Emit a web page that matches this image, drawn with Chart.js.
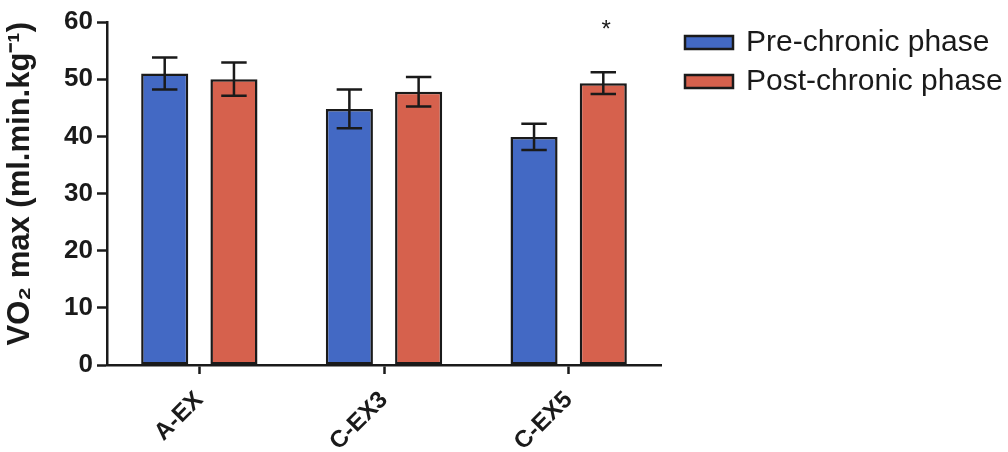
<!DOCTYPE html>
<html>
<head>
<meta charset="utf-8">
<script src="https://cdn.jsdelivr.net/npm/chart.js@4.4.1/dist/chart.umd.min.js"></script>
<style>
  html, body { margin: 0; padding: 0; background: #fff; }
  #wrap { width: 1008px; height: 452px; }
</style>
</head>
<body>
<div id="wrap"><canvas id="vo2Chart"></canvas></div>
<script>
// values (mean +/- error)
const groups = ["A-EX", "C-EX3", "C-EX5"];
const preMeans = [51.0, 44.8, 39.9];
const preErrors = [2.8, 3.4, 2.3];
const postMeans = [50.0, 47.8, 49.3];
const postErrors = [2.9, 2.6, 1.9];
const postStars = ["", "", "*"];
const yTicks = [0, 10, 20, 30, 40, 50, 60];

const FONT = "'Liberation Sans', Arial, Helvetica, sans-serif";
const INK = "#1a1a1a";

// error bars + significance star
const errorBars = {
  id: "errorBars",
  afterDatasetsDraw(chart) {
    const ctx = chart.ctx;
    const yScale = chart.scales.y;
    chart.data.datasets.forEach((ds, i) => {
      const meta = chart.getDatasetMeta(i);
      meta.data.forEach((bar, j) => {
        const top = yScale.getPixelForValue(ds.data[j] + ds.errors[j]);
        const bottom = yScale.getPixelForValue(ds.data[j] - ds.errors[j]);
        const half = bar.width * 0.27;
        ctx.save();
        ctx.strokeStyle = INK;
        ctx.lineWidth = 2.5;
        ctx.beginPath();
        ctx.moveTo(bar.x, top);
        ctx.lineTo(bar.x, bottom);
        ctx.moveTo(bar.x - half, top);
        ctx.lineTo(bar.x + half, top);
        ctx.moveTo(bar.x - half, bottom);
        ctx.lineTo(bar.x + half, bottom);
        ctx.stroke();
        if (ds.stars && ds.stars[j]) {
          ctx.fillStyle = INK;
          ctx.font = "24px " + FONT;
          ctx.textAlign = "center";
          ctx.textBaseline = "middle";
          ctx.fillText(ds.stars[j], bar.x + 3, top - 42);
        }
        ctx.restore();
      });
    });
  }
};

// legend drawn to the right of the plot
const sideLegend = {
  id: "sideLegend",
  afterDraw(chart) {
    const ctx = chart.ctx;
    const x0 = chart.chartArea.right + 24;
    let y = 42;
    chart.data.datasets.forEach((ds) => {
      ctx.save();
      ctx.fillStyle = ds.backgroundColor;
      ctx.strokeStyle = INK;
      ctx.lineWidth = 2.5;
      ctx.fillRect(x0, y - 6, 48, 13);
      ctx.strokeRect(x0, y - 6, 48, 13);
      ctx.fillStyle = INK;
      ctx.font = "30px " + FONT;
      ctx.textAlign = "left";
      ctx.textBaseline = "middle";
      ctx.fillText(ds.label, x0 + 61, y + 1);
      ctx.restore();
      y += 39;
    });
  }
};

const ctx = document.getElementById("vo2Chart").getContext("2d");

new Chart(ctx, {
  type: "bar",
  data: {
    labels: groups,
    datasets: [
      {
        label: "Pre-chronic phase",
        data: preMeans,
        errors: preErrors,
        backgroundColor: "#4369c4",
        borderColor: INK,
        borderWidth: 2.5,
        borderSkipped: false,
      },
      {
        label: "Post-chronic phase",
        data: postMeans,
        errors: postErrors,
        stars: postStars,
        backgroundColor: "#d6614d",
        borderColor: INK,
        borderWidth: 2.5,
        borderSkipped: false,
      },
    ],
  },
  options: {
    responsive: true,
    maintainAspectRatio: false,
    animation: false,
    categoryPercentage: 0.75,
    barPercentage: 0.68,
    layout: { padding: { top: 22, right: 347, bottom: 0, left: 0 } },
    plugins: {
      legend: { display: false },
      tooltip: { enabled: false },
    },
    scales: {
      x: {
        grid: {
          offset: false,
          drawOnChartArea: false,
          tickLength: 9,
          tickWidth: 2.5,
          tickColor: INK,
        },
        border: { color: INK, width: 2.5 },
        ticks: {
          color: INK,
          font: { family: FONT, size: 24, weight: "bold" },
          minRotation: 45,
          maxRotation: 45,
          padding: 12,
        },
        afterFit: (axis) => { axis.height = 87; },
      },
      y: {
        min: 0,
        max: 60,
        afterBuildTicks: (axis) => { axis.ticks = yTicks.map((v) => ({ value: v })); },
        grid: {
          drawOnChartArea: false,
          tickLength: 10,
          tickWidth: 2.5,
          tickColor: INK,
        },
        border: { color: INK, width: 2.5 },
        ticks: {
          color: INK,
          font: { family: FONT, size: 26, weight: "bold" },
          padding: 4,
        },
        title: {
          display: true,
          align: "end",
          text: "VO\u2082 max (ml.min.kg\u207B\u00B9)",
          color: INK,
          font: { family: FONT, size: 31, weight: "bold" },
          padding: { top: 2, bottom: 0 },
        },
        afterFit: (axis) => { axis.width = 107; },
      },
    },
  },
  plugins: [errorBars, sideLegend],
});
</script>
</body>
</html>
